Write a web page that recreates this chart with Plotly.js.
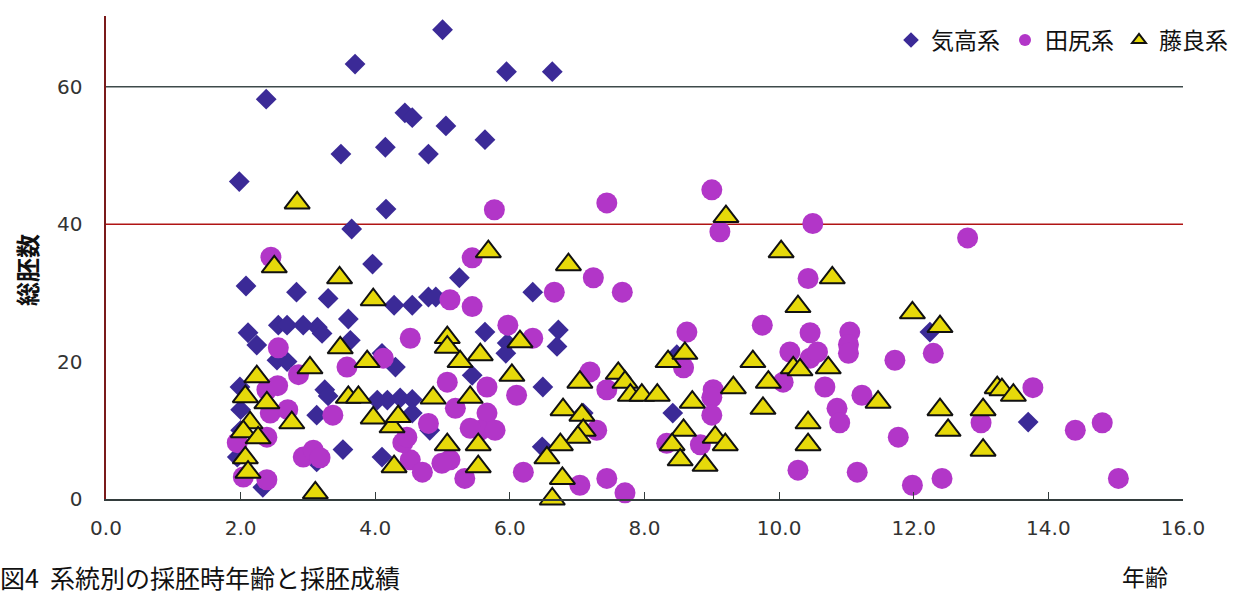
<!DOCTYPE html>
<html>
<head>
<meta charset="utf-8">
<script src="https://cdn.plot.ly/plotly-3.0.1.min.js"></script>
<style>
  html, body { margin: 0; padding: 0; background: #ffffff; }
  #chart { width: 1235px; height: 597px; }
</style>
</head>
<body>
<div id="chart"></div>
<script>
// ---- series names ----
var seriesNames = ['気高系', '田尻系', '藤良系'];

// ---- 気高系 (diamonds) ----
var kiX = [5.0, 3.7, 5.95, 6.63, 2.38, 4.44, 4.55, 5.05, 5.63, 3.49, 4.79, 4.15, 1.98, 4.16, 3.65, 3.96, 5.25,
  2.08, 2.83, 6.34, 3.30, 4.28, 4.55, 4.79, 4.90, 3.60, 3.14, 2.56, 2.69, 2.93, 2.11, 2.24, 2.54, 2.69, 3.21,
  3.63, 4.10, 4.30, 5.63, 5.96, 5.94, 6.72, 6.70, 5.44, 6.49, 1.99, 2.0, 1.95, 2.33, 3.25, 3.30, 3.13, 3.52,
  3.13, 4.10, 4.03, 4.18, 4.37, 4.55, 4.55, 4.81, 6.48, 7.09, 8.42, 8.48, 12.24, 13.70, 2.0];
var kiY = [68.3, 63.3, 62.2, 62.2, 58.2, 56.2, 55.5, 54.3, 52.3, 50.2, 50.2, 51.2, 46.2, 42.2, 39.3, 34.2, 32.2,
  31.0, 30.1, 30.1, 29.2, 28.2, 28.2, 29.4, 29.4, 26.2, 25.0, 25.3, 25.3, 25.3, 24.2, 22.4, 20.2, 20.0, 24.1,
  23.1, 21.2, 19.2, 24.3, 22.7, 21.2, 24.6, 22.2, 18.0, 16.3, 16.3, 13.0, 6.1, 1.7, 15.9, 15.0, 12.2, 7.2,
  5.4, 6.1, 14.4, 14.4, 14.7, 14.5, 12.5, 10.0, 7.6, 12.5, 12.5, 21.0, 24.3, 11.2, 10.0];

// ---- 田尻系 (circles) ----
var taX = [5.77, 7.44, 9.0, 9.12, 10.5, 12.8, 2.45, 5.44, 7.24, 10.43, 7.67, 6.66, 5.11, 5.44, 5.97, 6.34,
  4.52, 2.56, 2.86, 3.58, 4.12, 2.39, 2.44, 2.39, 1.95, 2.39, 2.04, 2.93, 3.08, 3.18, 3.37, 4.52, 4.41, 4.47,
  4.79, 4.70, 5.07, 5.66, 6.10, 5.19, 5.66, 5.56, 5.78, 5.41, 5.11, 5.33, 4.99, 6.20, 7.04, 7.44, 7.71, 7.19,
  7.44, 7.29, 8.63, 8.58, 9.02, 9.0, 9.0, 8.33, 8.83, 9.75, 10.16, 10.46, 10.46, 10.57, 10.06, 10.28, 10.68,
  10.86, 10.9, 11.05, 11.03, 11.03, 11.23, 11.72, 12.29, 11.77, 13.0, 13.77, 14.4, 14.8, 15.04, 11.16, 11.98,
  12.42, 2.55, 2.7];
var taY = [42.1, 43.1, 45.0, 38.9, 40.1, 38.0, 35.2, 35.1, 32.2, 32.1, 30.1, 30.1, 29.0, 28.0, 25.3, 23.4,
  23.4, 22.0, 18.1, 19.2, 20.5, 15.9, 12.5, 9.0, 8.2, 2.8, 3.2, 6.1, 7.1, 6.0, 12.2, 5.7, 8.2, 9.0,
  11.0, 3.9, 17.0, 16.3, 15.1, 13.2, 12.5, 10.0, 10.0, 10.3, 5.7, 3.0, 5.2, 3.9, 2.0, 3.0, 0.9, 18.5,
  15.9, 10.0, 24.3, 19.1, 15.9, 14.8, 12.2, 8.1, 7.9, 25.3, 21.4, 24.2, 20.5, 21.4, 17.0, 4.2, 16.3,
  13.2, 11.1, 24.3, 22.5, 21.2, 15.1, 20.2, 21.2, 9.0, 11.1, 16.2, 10.0, 11.1, 3.0, 3.9, 2.0,
  3.0, 16.5, 13.0];

// ---- 藤良系 (triangles) ----
var fuX = [2.84, 9.21, 10.03, 5.68, 6.87, 2.50, 3.47, 10.79, 3.97, 10.28, 11.98, 12.39, 6.15, 5.07, 5.07,
  3.48, 5.26, 5.56, 3.88, 3.03, 2.24, 6.03, 7.04, 7.61, 7.71, 7.79, 7.96, 8.19, 8.35, 8.60, 8.71, 9.32, 9.61,
  9.84, 9.76, 10.21, 10.31, 10.73, 10.43, 10.43, 11.47, 12.39, 12.51, 13.03, 13.03, 13.24, 13.31, 13.48, 8.58,
  8.41, 8.53, 8.90, 9.05, 9.20, 6.79, 7.07, 7.09, 7.01, 6.75, 6.55, 6.78, 6.63, 4.86, 5.41, 5.07, 5.53, 5.53,
  3.60, 3.75, 3.97, 4.25, 4.34, 4.28, 2.07, 2.39, 2.14, 2.04, 2.26, 2.07, 2.11, 2.76, 3.11];
var fuY = [43.1, 41.1, 36.0, 36.0, 34.1, 33.8, 32.2, 32.2, 29.0, 28.0, 27.1, 25.1, 22.9, 23.5, 22.1,
  22.0, 20.0, 21.0, 20.0, 19.1, 17.8, 18.0, 17.0, 18.3, 17.0, 15.1, 15.1, 15.1, 20.0, 21.2, 14.1, 16.2, 20.0,
  17.0, 13.2, 19.1, 18.8, 19.1, 11.1, 7.9, 14.1, 13.0, 10.0, 13.0, 7.1, 16.2, 15.9, 15.1, 10.0,
  7.9, 5.7, 4.9, 9.0, 7.9, 13.0, 12.2, 10.0, 9.0, 7.9, 6.0, 3.0, 0.0, 14.7, 14.8, 7.9, 7.9, 4.7,
  14.8, 14.8, 11.8, 10.5, 12.0, 4.7, 14.9, 14.0, 11.1, 9.8, 8.9, 6.0, 3.9, 11.1, 0.9];

// ---- axis ticks & reference lines ----
var xTicks = [0, 2, 4, 6, 8, 10, 12, 14, 16];
var xTickLabels = ['0.0', '2.0', '4.0', '6.0', '8.0', '10.0', '12.0', '14.0', '16.0'];
var yTicks = [0, 20, 40, 60];
var yTickLabels = ['0', '20', '40', '60'];
var refLines = [60, 40];
var yTitle = '総胚数';
var xTitle = '年齢';
var caption = '図4  系統別の採胚時年齢と採胚成績';

var jpFont = '"Noto Sans CJK JP", "Noto Sans", sans-serif';
var numFont = '"DejaVu Sans", "Liberation Sans", sans-serif';

// plot area in pixels (for placing free texts)
var PL = 106, PR = 1183, PT = 16, PB = 499;
function px(xp) { return (xp - PL) / (PR - PL); }
function py(yp) { return (PB - yp) / (PB - PT); }

var traces = [
  {
    type: 'scatter', mode: 'markers', name: seriesNames[0], x: kiX, y: kiY, cliponaxis: false,
    marker: { symbol: 'diamond', size: 16, color: '#3b2a97', line: { width: 0 } }
  },
  {
    type: 'scatter', mode: 'markers', name: seriesNames[1], x: taX, y: taY, cliponaxis: false,
    marker: { symbol: 'circle', size: 21, color: '#b236c8', line: { width: 0 } }
  },
  {
    type: 'scatter', mode: 'markers', name: seriesNames[2], x: fuX, y: fuY, cliponaxis: false,
    marker: { symbol: 'triangle-up', size: 22, color: '#e6d90a', line: { width: 2, color: '#111111' } }
  }
];

var shapes = [
  { type: 'line', xref: 'paper', x0: 0, x1: 1, yref: 'y', y0: refLines[0], y1: refLines[0],
    line: { color: '#3e4a4a', width: 1.5 }, layer: 'below' },
  { type: 'line', xref: 'paper', x0: 0, x1: 1, yref: 'y', y0: refLines[1], y1: refLines[1],
    line: { color: '#b01414', width: 1.6 }, layer: 'below' }
];

var layout = {
  width: 1235, height: 597,
  margin: { l: PL, r: 1235 - PR, t: PT, b: 597 - PB, pad: 0, autoexpand: false },
  paper_bgcolor: '#ffffff', plot_bgcolor: '#ffffff',
  showlegend: true,
  legend: {
    orientation: 'h', x: px(1233), xanchor: 'right', y: py(40), yanchor: 'middle',
    font: { family: jpFont, size: 23, color: '#111111' },
    itemsizing: 'constant', itemwidth: 30, bgcolor: 'rgba(0,0,0,0)', traceorder: 'normal'
  },
  xaxis: {
    range: [0, 16], tickvals: xTicks, ticktext: xTickLabels,
    showgrid: false, zeroline: false, showline: true, linecolor: '#333c3c', linewidth: 1.5,
    ticks: 'inside', ticklen: 7, tickwidth: 1.2, tickcolor: '#333c3c',
    ticklabelstandoff: 10,
    tickfont: { family: numFont, size: 20, color: '#333333' }
  },
  yaxis: {
    range: [0, 70.3], tickvals: yTicks, ticktext: yTickLabels,
    showgrid: false, zeroline: false, showline: true, linecolor: '#7a1a1a', linewidth: 1.6,
    ticks: '', ticklabelstandoff: 18,
    tickfont: { family: numFont, size: 20, color: '#333333' }
  },
  shapes: shapes,
  annotations: [
    { text: '<b>' + yTitle + '</b>', xref: 'paper', yref: 'paper', x: px(26), y: py(270),
      xanchor: 'center', yanchor: 'middle', textangle: -90, showarrow: false,
      font: { family: jpFont, size: 24, color: '#111111' } },
    { text: xTitle, xref: 'paper', yref: 'paper', x: px(1145), y: py(595),
      xanchor: 'center', yanchor: 'bottom', showarrow: false,
      font: { family: jpFont, size: 23, color: '#111111' } },
    { text: caption, xref: 'paper', yref: 'paper', x: px(-2), y: py(597),
      xanchor: 'left', yanchor: 'bottom', showarrow: false,
      font: { family: jpFont, size: 25, color: '#111111' } }
  ]
};

Plotly.newPlot('chart', traces, layout, { displayModeBar: false, staticPlot: true });
</script>
</body>
</html>
